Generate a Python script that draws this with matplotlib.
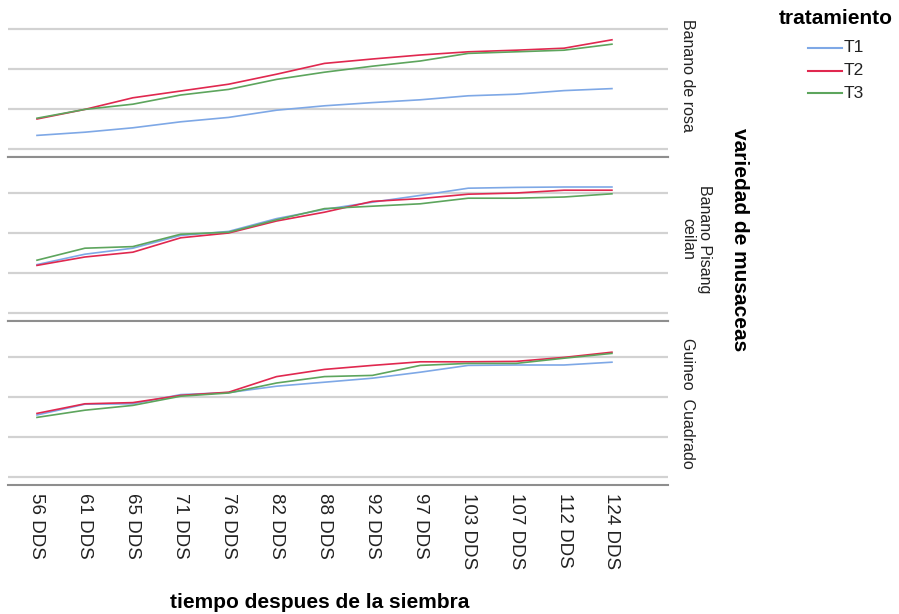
import matplotlib.pyplot as plt
from matplotlib.lines import Line2D

plt.rcParams['font.family'] = ['Liberation Sans', 'DejaVu Sans']

days = ['56 DDS', '61 DDS', '65 DDS', '71 DDS', '76 DDS', '82 DDS', '88 DDS',
        '92 DDS', '97 DDS', '103 DDS', '107 DDS', '112 DDS', '124 DDS']
varieties = ['Banano de rosa', 'Banano Pisang\nceilan', 'Guineo  Cuadrado']
treatments = ['T1', 'T2', 'T3']
colors = ['#7EA8E6', '#E0284F', '#5DA55D']

# values (lowest gridline = 0, one gridline = 10)
rosa_t1 = [3.4, 4.2, 5.3, 6.8, 7.9, 9.7, 10.8, 11.6, 12.3, 13.3, 13.7, 14.6, 15.1]
rosa_t2 = [7.5, 9.9, 12.8, 14.5, 16.2, 18.7, 21.4, 22.5, 23.5, 24.3, 24.7, 25.2, 27.3]
rosa_t3 = [7.7, 9.9, 11.2, 13.5, 14.9, 17.4, 19.2, 20.7, 22.0, 23.9, 24.3, 24.7, 26.2]

pisang_t1 = [12.1, 14.7, 16.2, 19.4, 20.4, 23.6, 25.9, 27.7, 29.4, 31.2, 31.4, 31.5, 31.5]
pisang_t2 = [11.9, 14.0, 15.2, 18.8, 20.0, 23.0, 25.2, 27.9, 28.6, 29.7, 30.0, 30.7, 30.7]
pisang_t3 = [13.2, 16.2, 16.6, 19.7, 20.2, 23.3, 26.1, 26.7, 27.3, 28.7, 28.7, 29.0, 29.8]

guineo_t1 = [15.5, 18.2, 18.3, 20.6, 21.1, 22.7, 23.7, 24.7, 26.2, 27.9, 28.0, 28.0, 28.7]
guineo_t2 = [15.9, 18.3, 18.6, 20.4, 21.2, 25.1, 26.9, 27.9, 28.8, 28.8, 28.9, 29.9, 31.2]
guineo_t3 = [14.9, 16.7, 17.9, 20.2, 21.0, 23.5, 25.1, 25.4, 27.9, 28.4, 28.4, 29.7, 30.9]

panels = [[rosa_t1, rosa_t2, rosa_t3],
          [pisang_t1, pisang_t2, pisang_t3],
          [guineo_t1, guineo_t2, guineo_t3]]

W, H = 899, 614
fig = plt.figure(figsize=(W / 100, H / 100), dpi=100)

x = list(range(len(days)))
for i, series in enumerate(panels):
    top = -7 + 164 * i
    ax = fig.add_axes([8 / W, 1 - (top + 164) / H, 660 / W, 164 / H])
    for vals, c in zip(series, colors):
        ax.plot(x, vals, color=c, lw=1.2)
    ax.set_xlim(-0.605, 13.17)
    ax.set_ylim(-2, 39)
    ax.set_yticks([0, 10, 20, 30])
    ax.set_yticklabels([])
    ax.yaxis.grid(True, color='#D2D2D2', lw=1.6)
    ax.set_axisbelow(True)
    ax.tick_params(length=0)
    for s in ['left', 'right']:
        ax.spines[s].set_visible(False)
    for s in ['top', 'bottom']:
        ax.spines[s].set_color('#8E8E8E')
        ax.spines[s].set_linewidth(1.5)
    ax.set_xticks(x)
    if i == 2:
        ax.set_xticklabels(days, rotation=-90, fontsize=13.5, color='#222222')
        ax.tick_params(axis='x', pad=6)
    else:
        ax.set_xticklabels([])
    ax.text(1.018, 0.5, varieties[i], transform=ax.transAxes, rotation=-90,
            ha='left', va='center', fontsize=11.5, color='#222222',
            multialignment='center')

fig.text(740 / W, 1 - 240 / H, 'variedad de musaceas', rotation=-90,
         ha='center', va='center', fontsize=15, fontweight='bold')
fig.text(320 / W, 1 - 603 / H, 'tiempo despues de la siembra',
         ha='center', va='center', fontsize=15, fontweight='bold')

# legend drawn by hand so it sits like the reference
fig.text(836 / W, 1 - 18 / H, 'tratamiento', ha='center', va='center',
         fontsize=15, fontweight='bold')
for k, (name, c) in enumerate(zip(treatments, colors)):
    yy = 1 - (48 + 22.5 * k) / H
    fig.add_artist(Line2D([808 / W, 842 / W], [yy, yy], color=c, lw=1.5,
                          transform=fig.transFigure))
    fig.text(844 / W, yy, name, ha='left', va='center', fontsize=12.5,
             color='#222222')

fig.savefig('out.png', dpi=100)
